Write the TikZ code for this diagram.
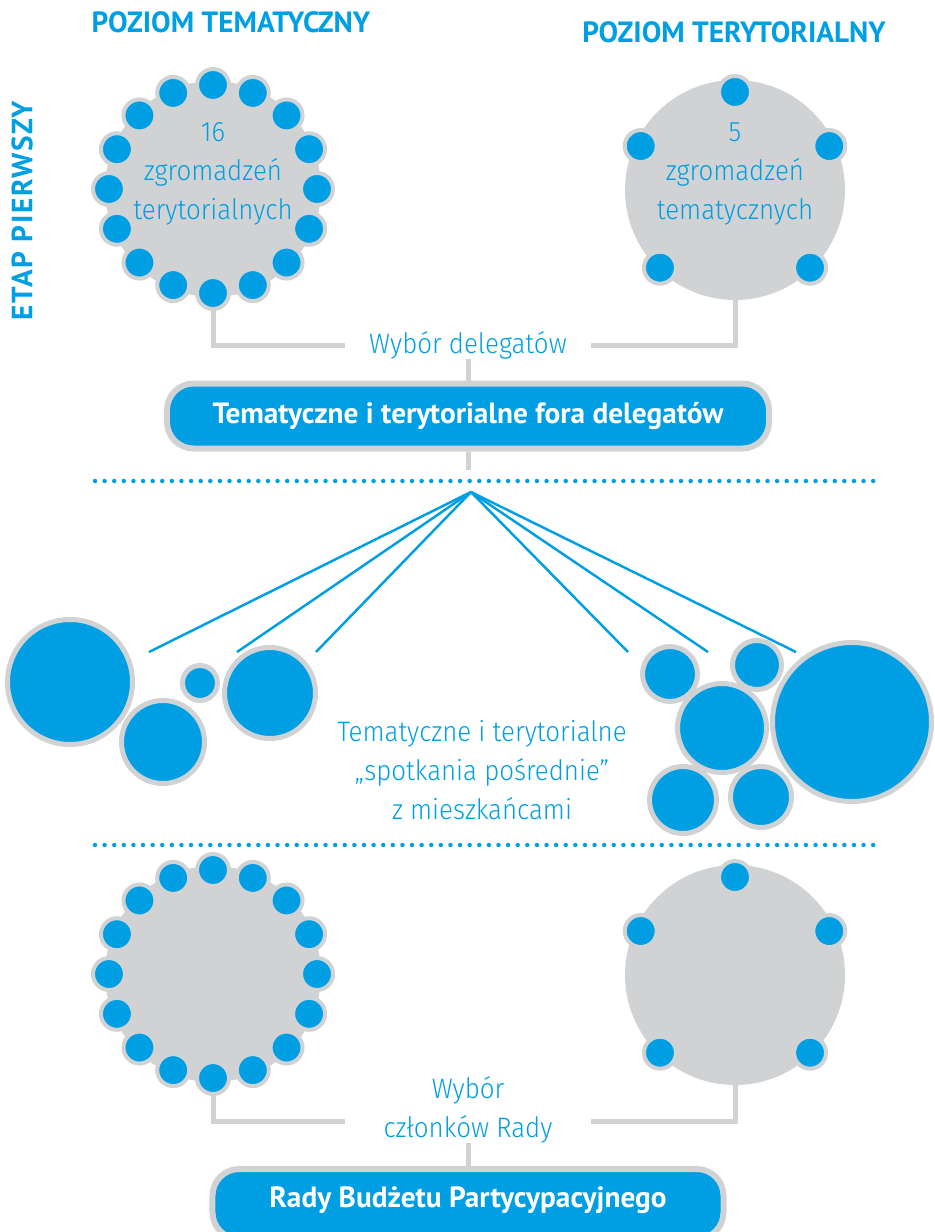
\documentclass[tikz,border=0pt]{standalone}
\usepackage{fontspec}
\setmainfont[FakeStretch=0.92]{Fira Sans Light}
\newfontfamily\headfont{PT Sans}
\usepackage{tikz}
\usetikzlibrary{positioning,calc}
\definecolor{pbblue}{HTML}{009FE3}
\definecolor{pbgray}{HTML}{D1D2D4}
\newcommand\thintext{\fontsize{24}{33}\selectfont}
\newcommand\headtext{\headfont\bfseries\fontsize{25}{29}\selectfont}
\tikzset{
  % --- assemblies (gray disk with blue seats) ---
  hub/.style={circle, fill=pbgray, inner sep=0pt, minimum size=#1},
  seat/.style={circle, fill=pbblue, draw=pbgray, line width=0.12cm,
               inner sep=0pt, minimum size=0.96cm},
  hubtext/.style={text=pbblue, align=center, font=\thintext},
  % --- meetings with residents ---
  bubble/.style={circle, fill=pbblue, draw=pbgray, line width=0.15cm,
                 inner sep=0pt, minimum size=#1},
  % --- labels and banners ---
  heading/.style={text=pbblue, font=\headtext},
  pick/.style={text=pbblue, font=\thintext, align=center, inner sep=0pt,
               minimum width=7.38cm},
  banner/.style={draw=pbgray, line width=0.18cm, fill=pbblue, text=white,
                 rounded corners=0.8cm, font=\headtext, inner sep=0pt,
                 minimum height=1.95cm},
  % --- lines ---
  link/.style={draw=pbgray, line width=0.15cm},
  fan/.style={draw=pbblue, line width=2.1pt},
  dotline/.style={draw=pbblue, line width=3.8pt, line cap=round,
                  dash pattern=on 0pt off 8.2pt},
}
\begin{document}
\begin{tikzpicture}[x=0.03cm, y=-0.03cm]
  \useasboundingbox (0,0) rectangle (935,1232);
  % headings
  \node[heading] (htem) at (231,22) {POZIOM TEMATYCZNY};
  \node[heading] (hter) at (734,32) {POZIOM TERYTORIALNY};
  \node[heading, rotate=90] (etap) at (22,211)
    {\addfontfeature{LetterSpace=6}ETAP PIERWSZY};

  % first stage: assemblies
  \node[hub=6.48cm] (ltop) at (213,189) {};
  \node[hub=6.6cm] (rtop) at (735,190) {};
  \node[pick] (wd) at (468,345) {Wybór delegatów};
  \node[banner, minimum width=18.06cm] (forum) at (468,416)
    {Tematyczne i terytorialne fora delegatów};
  \draw[link] (ltop.south) |- (wd.west);
  \draw[link] (rtop.south) |- (wd.east);
  \draw[link] (wd.south) -- (forum.north);
  \foreach \a [count=\i] in {0,22.5,...,337.5}
    \node[seat] (lt\i) at ($(ltop)+(\a:3.12cm)$) {};
  \foreach \a/\r [count=\i] in {90/2.94, 25/3.12, 155/3.12, -46/3.24, -134/3.24}
    \node[seat] (rt\i) at ($(rtop)+(\a:\r cm)$) {};
  \node[hubtext] at (213,174) {16\\zgromadzeń\\terytorialnych};
  \node[hubtext] at (735,174) {5\\zgromadzeń\\tematycznych};

  \coordinate (sep1) at (468,470);
  \draw[link] (forum.south) -- (sep1);
  \draw[dotline] (95,481) -- (875,481);

  % intermediate meetings
  \coordinate (apex) at (471,492);
  \foreach \n/\x in {f1/149, f2/237, f3/316, f4/628, f5/708, f6/796} {
    \coordinate (\n) at (\x,652);
    \draw[fan] (apex) -- (\n);
  }
  \foreach \n/\x/\y/\d in {m1/70/682/3.75, m2/163/742/2.49, m3/200/683/1.05,
      m4/270/693/2.73, m5/670/674/1.65, m6/757/665/1.47, m7/722/728/2.67,
      m8/683/800/2.01, m9/761/797/1.83, m10/852/722/4.77}
    \node[bubble=\d cm] (\n) at (\x,\y) {};
  \node[hubtext] (meet) at (482,770)
    {Tematyczne i terytorialne\\„spotkania pośrednie”\\z mieszkańcami};

  \draw[dotline] (95,845) -- (875,845);

  % second stage: councils
  \node[hub=6.48cm] (lbot) at (213,974) {};
  \node[hub=6.6cm] (rbot) at (735,975) {};
  \node[pick] (wc) at (468,1110) {Wybór\\członków Rady};
  \node[banner, minimum width=15.33cm, minimum height=2.1cm,
        text height=20pt, text depth=14pt] (council)
    at (468,1204) {Rady Budżetu Partycypacyjnego};
  \draw[link] (lbot.south) |- ([yshift=-10pt]wc.west);
  \draw[link] (rbot.south) |- ([yshift=-10pt]wc.east);
  \draw[link] (wc.south) -- (council.north);
  \foreach \a [count=\i] in {0,22.5,...,337.5}
    \node[seat] (lb\i) at ($(lbot)+(\a:3.12cm)$) {};
  \foreach \a/\r [count=\i] in {90/2.94, 25/3.12, 155/3.12, -46/3.24, -134/3.24}
    \node[seat] (rb\i) at ($(rbot)+(\a:\r cm)$) {};
\end{tikzpicture}
\end{document}
